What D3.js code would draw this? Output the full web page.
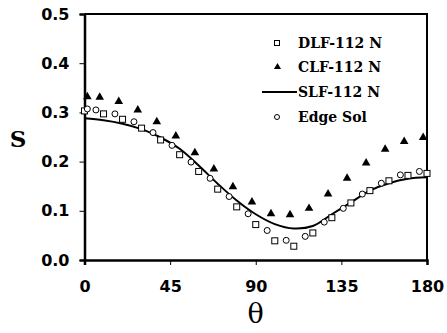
<!DOCTYPE html>
<html>
<head>
<meta charset="utf-8">
<script src="https://cdn.jsdelivr.net/npm/d3@7"></script>
<style>
  body { margin: 0; background: #fff; }
  svg { display: block; }
</style>
</head>
<body>
<div id="chart"></div>
<script>
// Data
const dlfTheta = [0, 10, 20, 30, 40, 50, 60, 70, 80, 90, 100, 110, 120, 130, 140, 150, 160, 170, 180]
const dlfValues = [0.303, 0.297, 0.286, 0.268, 0.244, 0.214, 0.180, 0.144, 0.108, 0.072, 0.039, 0.028, 0.055, 0.086, 0.116, 0.141, 0.161, 0.172, 0.176]

const clfTheta = [1.5, 8, 18, 28, 38, 48, 58, 68, 78, 88, 98, 108, 118, 128, 138, 148, 158, 168, 178]
const clfValues = [0.332, 0.331, 0.322, 0.305, 0.281, 0.252, 0.218, 0.185, 0.149, 0.118, 0.094, 0.092, 0.105, 0.134, 0.166, 0.197, 0.225, 0.241, 0.249]

const slfTheta = [0, 10, 20, 30, 40, 50, 60, 70, 80, 90, 100, 110, 120, 130, 140, 150, 160, 170, 180]
const slfValues = [0.288, 0.284, 0.277, 0.266, 0.249, 0.226, 0.192, 0.155, 0.121, 0.093, 0.073, 0.064, 0.069, 0.093, 0.117, 0.141, 0.156, 0.165, 0.168]

const edgeTheta = [1.5, 6, 16, 26, 36, 46, 56, 66, 76, 86, 96, 106, 116, 126, 136, 146, 156, 166, 176]
const edgeValues = [0.307, 0.305, 0.297, 0.281, 0.259, 0.233, 0.199, 0.166, 0.129, 0.094, 0.060, 0.040, 0.048, 0.077, 0.105, 0.134, 0.156, 0.173, 0.180]

const xTicks = [0, 45, 90, 135, 180]
const yTicks = [0, 0.1, 0.2, 0.3, 0.4, 0.5]
const legendLabels = ['DLF-112 N', 'CLF-112 N', 'SLF-112 N', 'Edge Sol']

// Layout
const W = 447
const H = 333
const margin = { top: 14, right: 20, bottom: 73, left: 84.5 }
const w = W - margin.left - margin.right
const h = H - margin.top - margin.bottom

const svg = d3.select('#chart').append('svg')
  .attr('width', W)
  .attr('height', H)

const g = svg.append('g')
  .attr('transform', `translate(${margin.left}, ${margin.top})`)

// Scales
const x = d3.scaleLinear().domain([0, 180]).range([0, w])
const y = d3.scaleLinear().domain([0, 0.5]).range([h, 0])

// Frame (top and right)
g.append('path')
  .attr('d', `M0,0H${w}V${h}`)
  .attr('fill', 'none')
  .attr('stroke', '#000')
  .attr('stroke-width', 2)

// Axes
const xAxis = d3.axisBottom(x).tickValues(xTicks).tickSize(5).tickPadding(16).tickFormat(d3.format('d'))
const yAxis = d3.axisLeft(y).tickValues(yTicks).tickSize(5).tickPadding(10).tickFormat(d3.format('.1f'))

const gx = g.append('g')
  .attr('transform', `translate(0, ${h})`)
  .call(xAxis)
const gy = g.append('g').call(yAxis)

for (const ax of [gx, gy]) {
  ax.select('.domain').attr('stroke-width', 2.5)
  ax.selectAll('.tick line').attr('stroke-width', 1)
  ax.selectAll('.tick text')
    .attr('font-family', 'DejaVu Sans')
    .attr('font-weight', 'bold')
    .attr('font-size', 16)
    .attr('fill', '#000')
}

// Axis titles
svg.append('text')
  .attr('x', 18)
  .attr('y', 147)
  .attr('text-anchor', 'middle')
  .attr('font-family', 'DejaVu Serif')
  .attr('font-weight', 'bold')
  .attr('font-size', 23)
  .text('S')

svg.append('text')
  .attr('x', margin.left + x(90))
  .attr('y', 323)
  .attr('text-anchor', 'middle')
  .attr('font-family', 'DejaVu Serif')
  .attr('font-size', 27)
  .text('θ')

// Symbols
const tri = d3.symbol().type(d3.symbolTriangle)

// SLF line
g.append('path')
  .datum(slfTheta.map((t, i) => [t, slfValues[i]]))
  .attr('fill', 'none')
  .attr('stroke', '#000')
  .attr('stroke-width', 2)
  .attr('d', d3.line().x(d => x(d[0])).y(d => y(d[1])).curve(d3.curveCatmullRom))

// DLF squares
g.selectAll('.dlf')
  .data(dlfTheta.map((t, i) => [t, dlfValues[i]]))
  .enter()
  .append('rect')
  .attr('class', 'dlf')
  .attr('x', d => x(d[0]) - 3)
  .attr('y', d => y(d[1]) - 3)
  .attr('width', 6)
  .attr('height', 6)
  .attr('fill', '#fff')
  .attr('stroke', '#000')
  .attr('stroke-width', 1)

// Edge circles
g.selectAll('.edge')
  .data(edgeTheta.map((t, i) => [t, edgeValues[i]]))
  .enter()
  .append('circle')
  .attr('class', 'edge')
  .attr('cx', d => x(d[0]))
  .attr('cy', d => y(d[1]))
  .attr('r', 3)
  .attr('fill', '#fff')
  .attr('stroke', '#000')
  .attr('stroke-width', 1)

// CLF triangles
g.selectAll('.clf')
  .data(clfTheta.map((t, i) => [t, clfValues[i]]))
  .enter()
  .append('path')
  .attr('class', 'clf')
  .attr('transform', d => `translate(${x(d[0])}, ${y(d[1])})`)
  .attr('d', tri.size(32)())
  .attr('fill', '#000')

// Legend
const legend = svg.append('g')
  .attr('font-family', 'DejaVu Serif')
  .attr('font-weight', 'bold')
  .attr('font-size', 14)

const rowY = [43, 67, 92, 117]
legendLabels.forEach((label, i) => {
  const row = legend.append('g').attr('transform', `translate(0, ${rowY[i]})`)
  if (i === 0) {
    row.append('rect').attr('x', 274.5).attr('y', -2.5).attr('width', 5).attr('height', 5)
      .attr('fill', '#fff').attr('stroke', '#000')
  } else if (i === 1) {
    row.append('path').attr('transform', 'translate(277.5, 0)').attr('d', tri.size(22)()).attr('fill', '#000')
  } else if (i === 2) {
    row.append('line').attr('x1', 262).attr('x2', 297).attr('stroke', '#000').attr('stroke-width', 2)
  } else {
    row.append('circle').attr('cx', 277).attr('r', 2.5).attr('fill', '#fff').attr('stroke', '#000')
  }
  row.append('text')
    .attr('x', 298)
    .attr('y', 5)
    .text(label)
})
</script>
</body>
</html>
